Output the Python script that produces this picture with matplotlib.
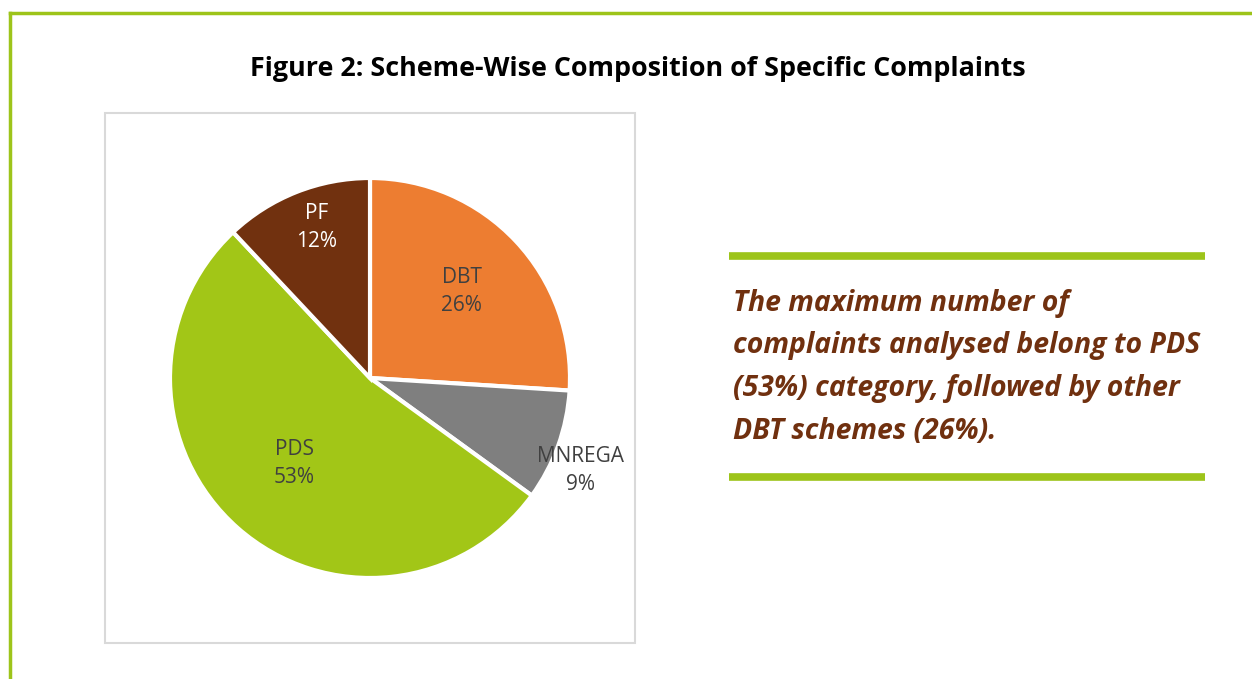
import numpy as np
import matplotlib
matplotlib.use("Agg")
import matplotlib.pyplot as plt
from matplotlib.patches import Rectangle
from matplotlib.lines import Line2D

categories = ["DBT", "MNREGA", "PDS", "PF"]
shares = [26, 9, 53, 12]
colors = ["#ED7D31", "#7F7F7F", "#A2C617", "#71310F"]
label_colors = ["#404040", "#404040", "#404040", "#FFFFFF"]
title = "Figure 2: Scheme-Wise Composition of Specific Complaints"
note_lines = ["The maximum number of",
              "complaints analysed belong to PDS",
              "(53%) category, followed by other",
              "DBT schemes (26%)."]

W, H = 1252, 679
fig = plt.figure(figsize=(W / 100, H / 100), dpi=100)
fig.patch.set_facecolor("white")
FONT = "Open Sans"

def fx(x):
    return x / W

def fy(y):
    return 1 - y / H

# outer green frame (left + top)
green = "#9DC41A"
fig.add_artist(Line2D([fx(10), fx(10)], [fy(13), fy(H + 5)], color=green, lw=2.5, transform=fig.transFigure))
fig.add_artist(Line2D([fx(10), fx(W + 5)], [fy(13), fy(13)], color=green, lw=2.5, transform=fig.transFigure))

# chart box
fig.add_artist(Rectangle((fx(105), fy(643)), fx(635) - fx(105), fy(113) - fy(643),
                         fill=False, ec="#D9D9D9", lw=1.5, transform=fig.transFigure))

fig.text(fx(638), fy(69), title, ha="center", va="center", fontsize=19.4,
         fontweight="bold", family=FONT, color="black")

# pie
cx, cy, R = 370, 378, 200
ax = fig.add_axes([fx(cx - R), fy(cy + R), 2 * R / W, 2 * R / H])
wedges, _ = ax.pie(shares, colors=colors, startangle=90, counterclock=False,
                   radius=1, wedgeprops=dict(edgecolor="white", linewidth=3))
ax.set_xlim(-1, 1)
ax.set_ylim(-1, 1)
ax.set_aspect("auto")
ax.axis("off")

label_r = [0.63, 1.15, 0.57, 0.80]
label_da = [0, -4, 0, -2]
for w, name, v, r, da, c in zip(wedges, categories, shares, label_r, label_da, label_colors):
    ang = np.deg2rad((w.theta1 + w.theta2) / 2 + da)
    ax.text(r * np.cos(ang), r * np.sin(ang), f"{name}\n{v}%", ha="center", va="center",
            fontsize=15, family=FONT, color=c, linespacing=1.45)

# right callout
for yy in (256, 477):
    fig.add_artist(Line2D([fx(729), fx(1205)], [fy(yy), fy(yy)], color=green, lw=5.5,
                          solid_capstyle="butt", transform=fig.transFigure))
for i, line in enumerate(note_lines):
    fig.text(fx(733), fy(303 + i * 42.7), line, ha="left", va="center", fontsize=20.4,
             fontweight="bold", fontstyle="italic", family=FONT, color="#70300F")

fig.savefig("out.png", dpi=100, facecolor="white")
